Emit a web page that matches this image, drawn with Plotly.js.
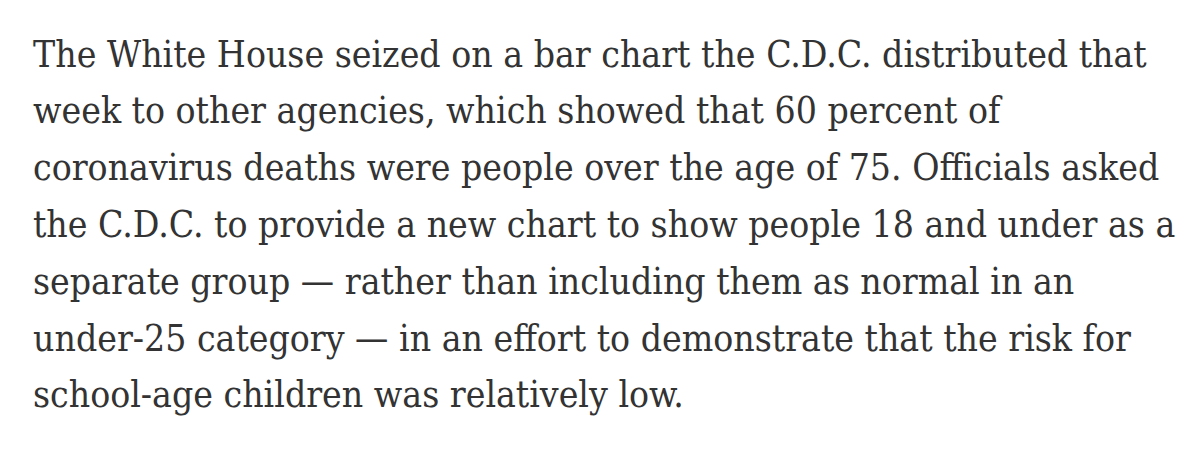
<!DOCTYPE html>
<html>
<head>
<meta charset="utf-8">
<script src="https://cdn.plot.ly/plotly-3.0.1.min.js"></script>
<style>html,body{margin:0;padding:0;background:#fff;}#chart{width:1200px;height:451px;}</style>
</head>
<body>
<div id="chart"></div>
<script>
const lines = [
  "The White House seized on a bar chart the C.D.C. distributed that",
  "week to other agencies, which showed that 60 percent of",
  "coronavirus deaths were people over the age of 75. Officials asked",
  "the C.D.C. to provide a new chart to show people 18 and under as a",
  "separate group \u2014 rather than including them as normal in an",
  "under-25 category \u2014 in an effort to demonstrate that the risk for",
  "school-age children was relatively low."
];
const lineIndex = [0, 1, 2, 3, 4, 5, 6];

const annotations = lines.map((t, i) => ({
  x: 0, y: lineIndex[i], xref: 'x', yref: 'y',
  text: t, showarrow: false, xanchor: 'left', yanchor: 'middle',
  font: {family: '"DejaVu Serif Condensed", "DejaVu Serif", serif', size: 37, color: '#333333'}
}));

const layout = {
  width: 1200, height: 451,
  margin: {l: 31, r: 0, t: 0, b: 0},
  paper_bgcolor: '#ffffff', plot_bgcolor: '#ffffff',
  showlegend: false,
  xaxis: {range: [0, 1169], visible: false, fixedrange: true},
  yaxis: {range: [6.989, -0.951], visible: false, fixedrange: true},
  annotations: annotations
};
Plotly.newPlot('chart', [{x: [], y: [], type: 'scatter', hoverinfo: 'skip'}], layout, {staticPlot: true, displayModeBar: false});
</script>
</body>
</html>
